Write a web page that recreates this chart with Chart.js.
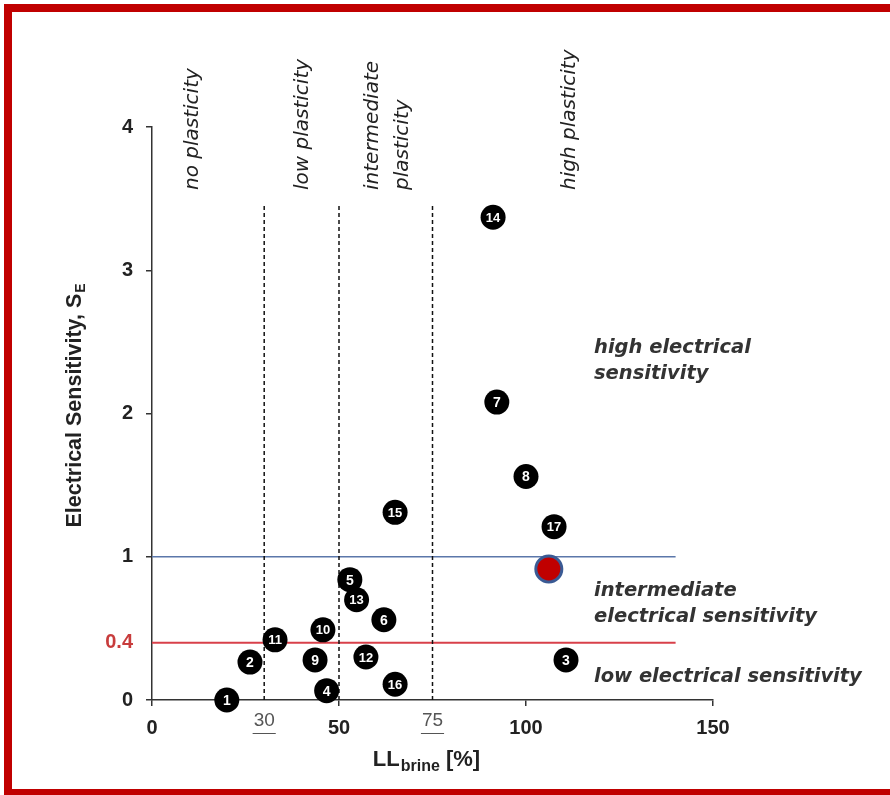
<!DOCTYPE html>
<html>
<head>
<meta charset="utf-8">
<script src="https://cdn.jsdelivr.net/npm/chart.js@4.4.3/dist/chart.umd.min.js"></script>
<style>
  html, body { margin:0; padding:0; background:#fff; overflow:hidden; }
  #wrap { position:relative; width:890px; height:795px; }
  #frame { position:absolute; left:4px; top:4px; width:900px; height:793px; box-sizing:border-box;
           border:8px solid #c00000; pointer-events:none; }
</style>
</head>
<body>
<div id="wrap">
  <canvas id="c" width="890" height="795"></canvas>
  <div id="frame"></div>
</div>
<script>
// soil samples: id, liquid limit in brine [%], electrical sensitivity S_E
const sampleIds   = ['1','2','3','4','5','6','7','8','9','10','11','12','13','14','15','16','17'];
const llBrine     = [20, 26.2, 110.7, 46.7, 52.9, 62, 92.2, 100, 43.6, 45.7, 32.9, 57.2, 54.7, 91.2, 65, 65, 107.5];
const sensitivity = [0, 0.265, 0.28, 0.065, 0.84, 0.56, 2.08, 1.56, 0.28, 0.49, 0.42, 0.30, 0.70, 3.37, 1.31, 0.11, 1.21];

// highlighted sample (red dot)
const markLL = [106.1];
const markSE = [0.915];

// class limits
const plasticityLimits = [30, 50, 75];     // dashed verticals
const lowLimit  = 0.4;                    // red line
const highLimit = 1;                      // blue line

const xTicks = [0, 50, 100, 150];
const yTicks = [0, 0.4, 1, 2, 3, 4];
const xExtraLabels = [30, 75];            // underlined labels

const plasticityLabels = [
  { x: 193, lines: ['no plasticity'] },
  { x: 303, lines: ['low plasticity'] },
  { x: 373, lines: ['intermediate', 'plasticity'] },
  { x: 570, lines: ['high plasticity'] }
];
const sensitivityLabels = [
  { y: 353, lines: ['high electrical', 'sensitivity'] },
  { y: 596, lines: ['intermediate', 'electrical sensitivity'] },
  { y: 682, lines: ['low electrical sensitivity'] }
];

const datasets = [
  {
    label: 'samples',
    data: llBrine.map((x, i) => ({ x, y: sensitivity[i] })),
    backgroundColor: '#000', borderColor: '#000', borderWidth: 0,
    pointRadius: 12.5, showLine: false, clip: false, order: 0
  },
  {
    label: 'mark',
    data: markLL.map((x, i) => ({ x, y: markSE[i] })),
    backgroundColor: '#c00000', borderColor: '#3a5a94', borderWidth: 3,
    pointRadius: 13, showLine: false, clip: false, order: 0
  },
  {
    label: 'high limit',
    data: [{ x: 0, y: highLimit }, { x: 140, y: highLimit }],
    borderColor: '#5b77aa', borderWidth: 1.5, pointRadius: 0, showLine: true, order: 3
  },
  {
    label: 'low limit',
    data: [{ x: 0, y: lowLimit }, { x: 140, y: lowLimit }],
    borderColor: '#d8404a', borderWidth: 2, pointRadius: 0, showLine: true, order: 3
  }
];
plasticityLimits.forEach(v => {
  datasets.push({
    label: 'LL ' + v,
    data: [{ x: v, y: 0 }, { x: v, y: 3.47 }],
    borderColor: '#111', borderWidth: 1.5, borderDash: [4, 3],
    pointRadius: 0, showLine: true, order: 2
  });
});

const decor = {
  id: 'decor',
  afterDatasetsDraw(chart) {
    const ctx = chart.ctx;
    const xs = chart.scales.x;
    ctx.save();
    // numbers inside the dots
    const meta = chart.getDatasetMeta(0);
    ctx.fillStyle = '#fff';
    ctx.textAlign = 'center';
    ctx.textBaseline = 'middle';
    meta.data.forEach((pt, i) => {
      const s = sampleIds[i];
      ctx.font = s.length > 1 ? 'bold 13px "Liberation Sans", Arial' : 'bold 14px "Liberation Sans", Arial';
      ctx.fillText(s, pt.x, pt.y + 1, 18);
    });

    // underlined 30 / 75
    ctx.font = '19px "Liberation Sans", Arial';
    ctx.fillStyle = '#555';
    ctx.strokeStyle = '#555';
    ctx.lineWidth = 1;
    xExtraLabels.forEach(v => {
      const px = xs.getPixelForValue(v);
      const w = ctx.measureText(String(v)).width;
      ctx.fillText(String(v), px, 721);
      ctx.beginPath();
      ctx.moveTo(px - w / 2 - 1, 733.5);
      ctx.lineTo(px + w / 2 + 1, 733.5);
      ctx.stroke();
    });

    // rotated plasticity labels
    ctx.fillStyle = '#222';
    ctx.font = 'oblique 20px "DejaVu Sans"';
    ctx.textAlign = 'left';
    plasticityLabels.forEach(l => {
      l.lines.forEach((t, j) => {
        ctx.save();
        ctx.translate(l.x + j * 30, 190);
        ctx.rotate(-Math.PI / 2);
        ctx.fillText(t, 0, 0);
        ctx.restore();
      });
    });

    // sensitivity zone labels
    ctx.fillStyle = '#333';
    ctx.font = 'oblique bold 19.5px "DejaVu Sans"';
    ctx.textBaseline = 'alphabetic';
    sensitivityLabels.forEach(l => {
      l.lines.forEach((t, j) => ctx.fillText(t, 594, l.y + j * 26));
    });

    // y axis title with subscript
    ctx.fillStyle = '#222';
    ctx.save();
    ctx.translate(75, 406);
    ctx.rotate(-Math.PI / 2);
    ctx.textBaseline = 'middle';
    ctx.font = 'bold 21.5px "Liberation Sans", Arial';
    const main = 'Electrical Sensitivity, S';
    const w1 = ctx.measureText(main).width;
    ctx.font = 'bold 14px "Liberation Sans", Arial';
    const w2 = ctx.measureText('E').width;
    let x0 = -(w1 + w2) / 2;
    ctx.font = 'bold 21.5px "Liberation Sans", Arial';
    ctx.fillText(main, x0, 0);
    ctx.font = 'bold 14px "Liberation Sans", Arial';
    ctx.fillText('E', x0 + w1 + 1, 6);
    ctx.restore();

    // x axis title with subscript
    ctx.textBaseline = 'middle';
    ctx.font = 'bold 22px "Liberation Sans", Arial';
    const a = 'LL', c = ' [%]';
    const wa = ctx.measureText(a).width, wc = ctx.measureText(c).width;
    ctx.font = 'bold 16px "Liberation Sans", Arial';
    const wb = ctx.measureText('brine').width;
    let sx = 426 - (wa + wb + wc) / 2;
    ctx.font = 'bold 22px "Liberation Sans", Arial';
    ctx.fillText(a, sx, 760);
    ctx.font = 'bold 16px "Liberation Sans", Arial';
    ctx.fillText('brine', sx + wa + 1, 767);
    ctx.font = 'bold 22px "Liberation Sans", Arial';
    ctx.fillText(c, sx + wa + wb + 1, 760);
    ctx.restore();
  }
};

new Chart(document.getElementById('c'), {
  type: 'scatter',
  data: { datasets },
  options: {
    responsive: false,
    animation: false,
    layout: { padding: { top: 127, right: 177, bottom: 0, left: 0 } },
    plugins: { legend: { display: false }, tooltip: { enabled: false } },
    scales: {
      x: {
        type: 'linear', min: 0, max: 150,
        afterFit(s) { s.height = 95; },
        afterBuildTicks(s) { s.ticks = xTicks.map(v => ({ value: v })); },
        grid: { display: true, drawOnChartArea: false, drawTicks: true, tickLength: 6, color: '#333', lineWidth: 1.5 },
        border: { display: true, color: '#333', width: 1.5 },
        ticks: { color: '#222', padding: 10, font: { family: '"Liberation Sans", Arial', size: 20, weight: 'bold' } }
      },
      y: {
        type: 'linear', min: 0, max: 4,
        afterFit(s) { s.width = 152; },
        afterBuildTicks(s) { s.ticks = yTicks.map(v => ({ value: v })); },
        grid: {
          display: true, drawOnChartArea: false, drawTicks: true, tickLength: 6, lineWidth: 1.5,
          color: ctx => (ctx.tick && ctx.tick.value === lowLimit) ? 'rgba(0,0,0,0)' : '#333'
        },
        border: { display: true, color: '#333', width: 1.5 },
        ticks: {
          padding: 13,
          font: { family: '"Liberation Sans", Arial', size: 20, weight: 'bold' },
          color: ctx => (ctx.tick && ctx.tick.value === lowLimit) ? '#c83c3c' : '#222',
          callback: v => String(v)
        }
      }
    }
  },
  plugins: [decor]
});
</script>
</body>
</html>
